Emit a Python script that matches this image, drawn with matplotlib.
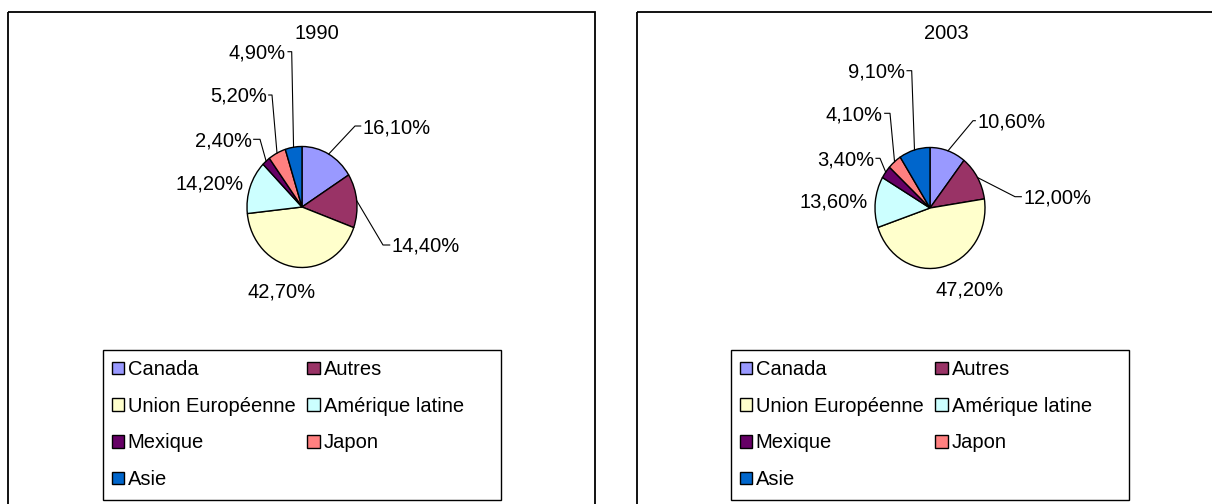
import numpy as np
import matplotlib
matplotlib.use("Agg")
import matplotlib.pyplot as plt
from matplotlib.patches import Rectangle

plt.rcParams['font.family'] = ['Liberation Sans', 'DejaVu Sans']

# data
categories = ['Canada', 'Autres', 'Union Européenne', 'Amérique latine',
              'Mexique', 'Japon', 'Asie']
values_1990 = [16.1, 14.4, 42.7, 14.2, 2.4, 5.2, 4.9]
values_2003 = [10.6, 12.0, 47.2, 13.6, 3.4, 4.1, 9.1]
years = ['1990', '2003']

colors = ['#9999FF', '#993366', '#FFFFCC', '#CCFFFF', '#660066', '#FF8080', '#0066CC']

W, H = 1212, 504
FS = 14.5

# layout in image pixels (x, y from top-left)
centers = [(302, 207), (930, 208)]
rx, ry = 55, 60.5
title_pos = [(316.7, 31.7), (946, 31.7)]
# label anchor x, y (visual centre), alignment, elbow x of leader line
label_pos = [
    [(362.7, 126, 'left', 355), (391.7, 245, 'left', 383), (281.7, 290, 'center', None),
     (209.7, 182, 'center', None), (251.7, 139.3, 'right', 260),
     (266.7, 95, 'right', 272), (286, 51.7, 'right', 291.7)],
    [(977.3, 120.7, 'left', 973), (1023.3, 196.7, 'left', 1015), (969.3, 288.3, 'center', None),
     (834, 200.7, 'center', None), (874, 158.3, 'right', 880),
     (882.7, 113.3, 'right', 890), (905, 70.7, 'right', 911.7)],
]
panels = [(8, 12, 595, 520), (637, 12, 1230, 520)]

fig = plt.figure(figsize=(W / 100, H / 100), dpi=100)
fig.patch.set_facecolor('white')

# overlay in image pixel coordinates for texts, leaders and frames
over = fig.add_axes([0, 0, 1, 1])
over.set_xlim(0, W)
over.set_ylim(H, 0)
over.axis('off')
over.set_zorder(5)

for k, vals in enumerate([values_1990, values_2003]):
    cx, cy = centers[k]
    x0, y0, x1, y1 = panels[k]
    over.add_patch(Rectangle((x0, y0), x1 - x0, y1 - y0, fill=False,
                             edgecolor='black', linewidth=1.3, clip_on=False))

    ax = fig.add_axes([(cx - rx) / W, (H - cy - ry) / H, 2 * rx / W, 2 * ry / H])
    wedges, _ = ax.pie(vals, colors=colors, startangle=90, counterclock=False,
                       radius=1, wedgeprops=dict(edgecolor='black', linewidth=1.0))
    ax.set_aspect('auto')
    ax.set_xlim(-1, 1)
    ax.set_ylim(-1, 1)
    ax.axis('off')

    over.text(title_pos[k][0], title_pos[k][1] + 7, years[k], fontsize=FS,
              ha='center', va='baseline')

    to_over = over.transData.inverted()
    for w, v, (tx, ty, ha, ex) in zip(wedges, vals, label_pos[k]):
        txt = f"{v:.2f}%".replace('.', ',')
        over.text(tx, ty + 7, txt, fontsize=FS, ha=ha, va='baseline')
        if ex is None:
            continue
        mid = np.deg2rad((w.theta1 + w.theta2) / 2)
        px, py = to_over.transform(ax.transData.transform((np.cos(mid), np.sin(mid))))
        tend = tx - 2 if ha == 'left' else tx + 2
        over.plot([tend, ex, px], [ty, ty, py], color='black', linewidth=0.8)

    # legend frame + entries (row-wise order like the original)
    bx = cx - 199
    over.add_patch(Rectangle((bx, 350), 398, 150, fill=False, edgecolor='black',
                             linewidth=1.0, clip_on=False))
    order = [0, 2, 4, 6, 1, 3, 5]
    fig.legend([wedges[i] for i in order], [categories[i] for i in order],
               loc='upper left', bbox_to_anchor=((bx + 8.5) / W, 1 - 360 / H),
               bbox_transform=fig.transFigure, ncol=2, frameon=False,
               borderpad=0, borderaxespad=0, handlelength=0.6, handleheight=0.6,
               handletextpad=0.2, columnspacing=0.6, labelspacing=0.88, fontsize=FS)

fig.savefig('out.png', dpi=100)
